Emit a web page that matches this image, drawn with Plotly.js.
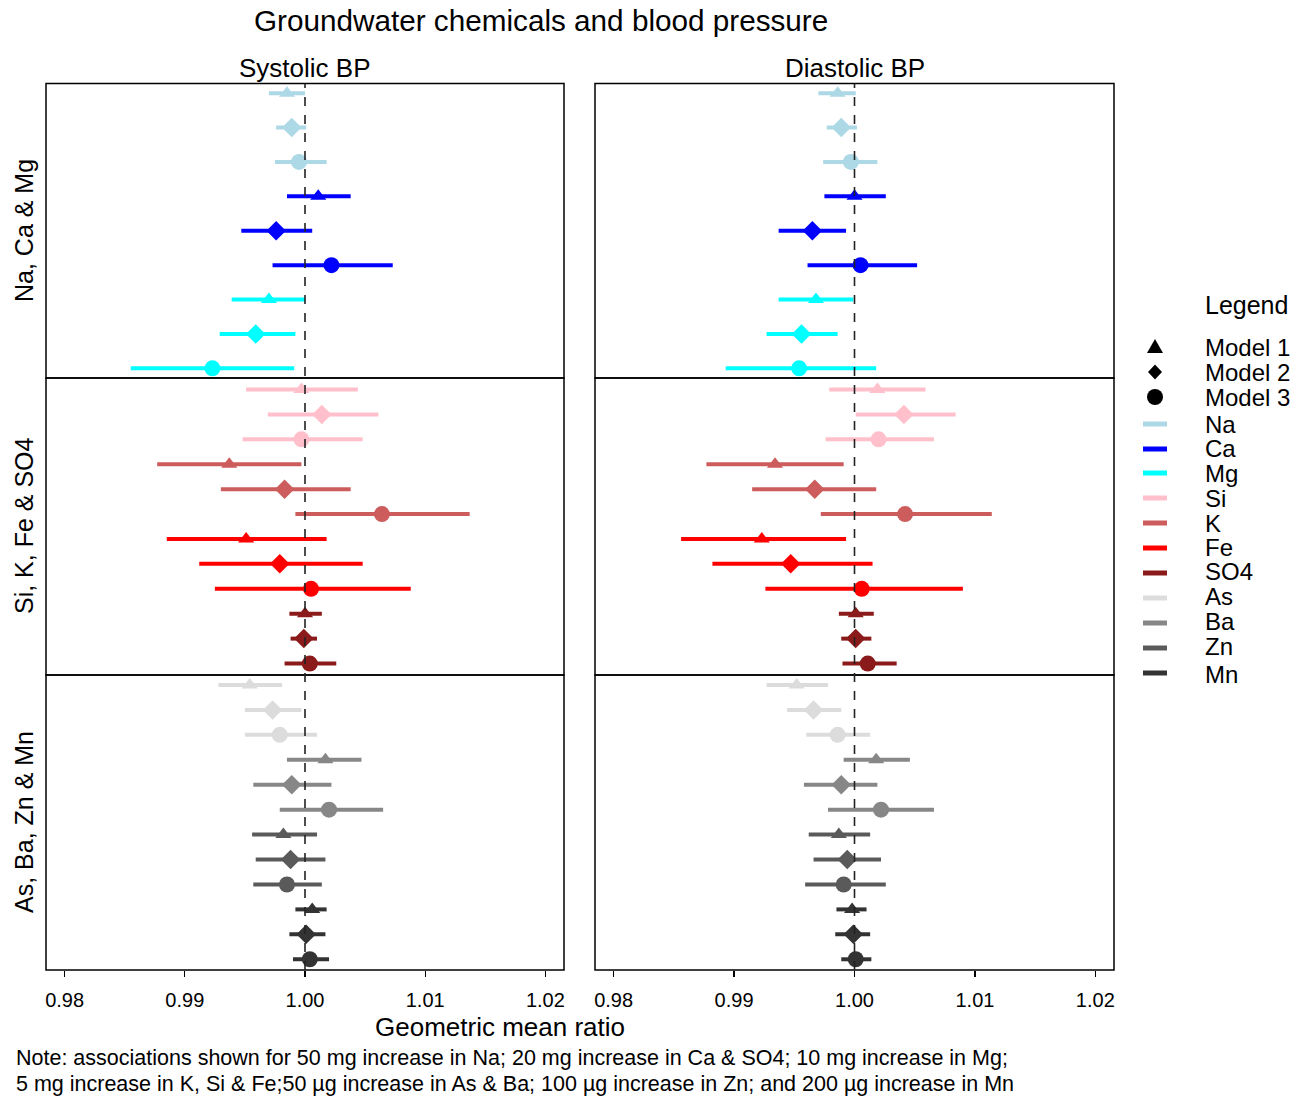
<!DOCTYPE html>
<html><head><meta charset="utf-8">
<script src="https://cdn.plot.ly/plotly-3.0.1.min.js"></script>
<style>body{margin:0;background:#fff}#chart{width:1306px;height:1101px}</style>
</head><body><div id="chart"></div>
<script>
// ---- data ----
const groups = ['Na, Ca & Mg', 'Si, K, Fe & SO4', 'As, Ba, Zn & Mn'];
const elements = ['Na', 'Ca', 'Mg', 'Si', 'K', 'Fe', 'SO4', 'As', 'Ba', 'Zn', 'Mn'];
const elementGroup = [0, 0, 0, 1, 1, 1, 1, 2, 2, 2, 2];
const elementColors = ['#ADD8E6', '#0000FF', '#00FFFF', '#FFC0CB', '#CD5C5C', '#FF0000', '#8B1A1A', '#DCDCDC', '#878787', '#5A5A5A', '#333333'];
const models = ['Model 1', 'Model 2', 'Model 3'];
const modelSymbols = ['triangle-up', 'diamond', 'circle'];
const outcomes = ['Systolic BP', 'Diastolic BP'];
const xTicks = [0.98, 0.99, 1.00, 1.01, 1.02];
const xTickText = ['0.98', '0.99', '1.00', '1.01', '1.02'];

// values ordered element by element (Na..Mn), Model 1, 2, 3 within each element
const sbpEst = [0.9985, 0.9989, 0.9995,  1.0011, 0.9976, 1.0022,  0.9970, 0.9959, 0.9923,
                0.9997, 1.0014, 0.9997,  0.9937, 0.9983, 1.0064,  0.9951, 0.9979, 1.0005,  1.0000, 0.9999, 1.0004,
                0.9954, 0.9973, 0.9979,  1.0017, 0.9989, 1.0020,  0.9982, 0.9988, 0.9985,  1.0006, 1.0001, 1.0004];
const sbpLo  = [0.9970, 0.9976, 0.9975,  0.9985, 0.9947, 0.9973,  0.9939, 0.9929, 0.9855,
                0.9951, 0.9969, 0.9948,  0.9877, 0.9930, 0.9992,  0.9885, 0.9912, 0.9925,  0.9987, 0.9988, 0.9983,
                0.9928, 0.9950, 0.9950,  0.9985, 0.9957, 0.9979,  0.9956, 0.9959, 0.9957,  0.9992, 0.9987, 0.9990];
const sbpHi  = [1.0000, 1.0001, 1.0018,  1.0038, 1.0006, 1.0073,  1.0000, 0.9992, 0.9991,
                1.0044, 1.0061, 1.0048,  0.9997, 1.0038, 1.0137,  1.0018, 1.0048, 1.0088,  1.0014, 1.0010, 1.0026,
                0.9981, 0.9997, 1.0010,  1.0047, 1.0022, 1.0065,  1.0010, 1.0017, 1.0014,  1.0018, 1.0017, 1.0020];
const dbpEst = [0.9986, 0.9989, 0.9997,  1.0000, 0.9965, 1.0005,  0.9968, 0.9956, 0.9954,
                1.0019, 1.0041, 1.0020,  0.9934, 0.9967, 1.0042,  0.9923, 0.9947, 1.0006,  1.0001, 1.0001, 1.0011,
                0.9952, 0.9966, 0.9986,  1.0018, 0.9989, 1.0022,  0.9987, 0.9994, 0.9991,  0.9998, 0.9999, 1.0001];
const dbpLo  = [0.9970, 0.9977, 0.9974,  0.9975, 0.9937, 0.9961,  0.9937, 0.9927, 0.9893,
                0.9979, 1.0001, 0.9976,  0.9877, 0.9915, 0.9972,  0.9856, 0.9882, 0.9926,  0.9987, 0.9989, 0.9990,
                0.9927, 0.9944, 0.9960,  0.9991, 0.9958, 0.9978,  0.9962, 0.9966, 0.9959,  0.9985, 0.9984, 0.9989];
const dbpHi  = [1.0001, 1.0002, 1.0019,  1.0026, 0.9993, 1.0052,  0.9999, 0.9986, 1.0018,
                1.0059, 1.0084, 1.0066,  0.9991, 1.0018, 1.0114,  0.9993, 1.0015, 1.0090,  1.0016, 1.0014, 1.0035,
                0.9978, 0.9989, 1.0013,  1.0046, 1.0019, 1.0066,  1.0013, 1.0022, 1.0026,  1.0010, 1.0013, 1.0014];

const noteLines = [
  'Note: associations shown for 50 mg increase in Na; 20 mg increase in Ca & SO4; 10 mg increase in Mg;',
  '5 mg increase in K, Si & Fe;50 \u00b5g increase in As & Ba; 100 \u00b5g increase in Zn; and 200 \u00b5g increase in Mn'
];

// ---- layout helpers ----
const W = 1306, H = 1101;
const px = x => x / W;
const py = y => 1 - y / H;
const FONT = '"Liberation Sans", Arial, Helvetica, sans-serif';

const colDomains = [[px(46), px(564)], [px(595), px(1114)]];
const rowDomains = [[py(378), py(83.5)], [py(675), py(378)], [py(970), py(675)]];
const rowRanges = [[9.28, 0.72], [12.46, 0.54], [12.43, 0.6]];
const xRange = [0.97845, 1.02155];
const xNames = ['x', 'x2'];
const yNames = ['y', 'y2', 'y3'];

const est = [sbpEst, dbpEst], lo = [sbpLo, dbpLo], hi = [sbpHi, dbpHi];

const traces = [];
for (let o = 0; o < 2; o++) {
  elements.forEach((el, e) => {
    const g = elementGroup[e];
    const rank = elementGroup.slice(0, e).filter(v => v === g).length;
    const xs = [], ys = [], ep = [], em = [];
    for (let m = 0; m < 3; m++) {
      const i = e * 3 + m;
      xs.push(est[o][i]);
      ys.push(rank * 3 + m + 1);
      ep.push(hi[o][i] - est[o][i]);
      em.push(est[o][i] - lo[o][i]);
    }
    traces.push({
      type: 'scatter', mode: 'markers', name: el + ' (' + outcomes[o] + ')',
      x: xs, y: ys, xaxis: xNames[o], yaxis: yNames[g],
      marker: { symbol: modelSymbols, size: [14, 15, 16], color: elementColors[e], opacity: 1, line: { width: 0 } },
      error_x: { type: 'data', symmetric: false, array: ep, arrayminus: em,
                 color: elementColors[e], thickness: 4, width: 0 },
      text: models, hovertemplate: el + ' %{text}: %{x:.4f}<extra></extra>',
      showlegend: false
    });
  });
}

const layout = {
  width: W, height: H, margin: { l: 0, r: 0, t: 0, b: 0 },
  paper_bgcolor: '#fff', plot_bgcolor: '#fff',
  font: { family: FONT, color: '#000' },
  showlegend: false,
  shapes: [], annotations: []
};
for (let o = 0; o < 2; o++) {
  layout[o === 0 ? 'xaxis' : 'xaxis2'] = {
    domain: colDomains[o], range: xRange, anchor: 'y3',
    tickmode: 'array', tickvals: xTicks, ticktext: xTickText,
    ticks: 'outside', ticklen: 6, tickwidth: 1.3, tickcolor: '#000',
    ticklabelstandoff: 6,
    tickfont: { family: FONT, size: 20, color: '#000' },
    showgrid: false, zeroline: false, showline: false, fixedrange: true
  };
}
for (let g = 0; g < 3; g++) {
  layout[g === 0 ? 'yaxis' : 'yaxis' + (g + 1)] = {
    domain: rowDomains[g], range: rowRanges[g], anchor: 'x',
    showticklabels: false, ticks: '', showgrid: false, zeroline: false, showline: false, fixedrange: true
  };
}
// panel borders
for (let o = 0; o < 2; o++) {
  for (let g = 0; g < 3; g++) {
    layout.shapes.push({ type: 'rect', xref: xNames[o] + ' domain', yref: yNames[g] + ' domain',
      x0: 0, x1: 1, y0: 0, y1: 1, line: { color: '#000', width: 1.5 }, layer: 'above' });
  }
  // reference line at 1.00
  layout.shapes.push({ type: 'line', xref: xNames[o], yref: 'paper', x0: 1, x1: 1,
    y0: rowDomains[2][0], y1: rowDomains[0][1], line: { color: '#222', width: 1.6, dash: 'dash' }, layer: 'above' });
}

const ann = (text, x, y, size, opts = {}) => layout.annotations.push(Object.assign({
  text, x: px(x), y: py(y), xref: 'paper', yref: 'paper', showarrow: false,
  xanchor: 'center', yanchor: 'middle', font: { family: FONT, size, color: '#000' }
}, opts));

ann('Groundwater chemicals and blood pressure', 541, 21, 29.7);
ann(outcomes[0], 305, 68, 26);
ann(outcomes[1], 855, 68, 26);
const groupCenters = [231, 526, 822];
groups.forEach((gname, g) => ann(gname, 24, groupCenters[g], 25, { textangle: -90 }));
ann('Geometric mean ratio', 500, 1027, 26);
ann(noteLines[0], 14, 1058, 21.5, { xanchor: 'left' });
ann(noteLines[1], 14, 1084, 21.5, { xanchor: 'left' });

// manual legend
ann('Legend', 1203, 305, 25, { xanchor: 'left' });
const modelY = [347, 372, 397];
models.forEach((mname, m) => ann(mname, 1203, modelY[m], 24, { xanchor: 'left' }));
const lx = 1155;
// triangle
layout.shapes.push({ type: 'path', xref: 'paper', yref: 'paper',
  path: `M${px(lx - 8)},${py(modelY[0] + 6)} L${px(lx + 8)},${py(modelY[0] + 6)} L${px(lx)},${py(modelY[0] - 8)} Z`,
  fillcolor: '#000', line: { width: 0 } });
// diamond
layout.shapes.push({ type: 'path', xref: 'paper', yref: 'paper',
  path: `M${px(lx - 7)},${py(modelY[1])} L${px(lx)},${py(modelY[1] - 7.5)} L${px(lx + 7)},${py(modelY[1])} L${px(lx)},${py(modelY[1] + 7.5)} Z`,
  fillcolor: '#000', line: { width: 0 } });
// circle
layout.shapes.push({ type: 'circle', xref: 'paper', yref: 'paper',
  x0: px(lx - 8), x1: px(lx + 8), y0: py(modelY[2] + 8), y1: py(modelY[2] - 8),
  fillcolor: '#000', line: { width: 0 } });
const legLineY = [424, 449, 473, 498, 523, 548, 573, 598, 623, 648, 673];
const legTextY = [424, 448, 473, 498, 523, 547, 571, 596, 621, 646, 674];
elements.forEach((el, e) => {
  layout.shapes.push({ type: 'line', xref: 'paper', yref: 'paper',
    x0: px(1143), x1: px(1167), y0: py(legLineY[e]), y1: py(legLineY[e]),
    line: { color: elementColors[e], width: 5 } });
  ann(el, 1203, legTextY[e], 24, { xanchor: 'left' });
});

Plotly.newPlot('chart', traces, layout, { displayModeBar: false, staticPlot: true });
</script>
</body></html>
